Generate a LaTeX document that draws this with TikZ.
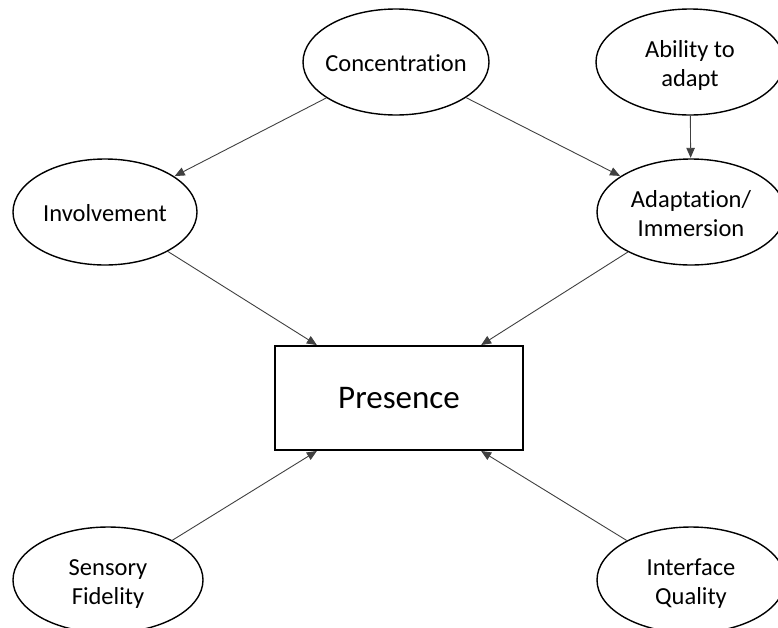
\documentclass[tikz,border=0pt]{standalone}
\usepackage{fontspec}
\setmainfont{Carlito}[Ligatures={NoCommon}]
\usetikzlibrary{arrows.meta,shapes.geometric}
\begin{document}
\begin{tikzpicture}[x=1pt,y=-1pt,
  ell/.style={draw=black,line width=1.4pt,ellipse,inner sep=0pt,
    minimum width=#1,minimum height=106pt,font=\fontsize{24.5}{29}\selectfont},
  ell/.default=188pt,
  presbox/.style={draw=black,line width=1.4pt,rectangle,inner sep=0pt,
    minimum width=248pt,minimum height=104pt,font=\fontsize{33}{40}\selectfont},
  conn/.style={draw=black!75,line width=0.9pt,-{Triangle[length=10pt,width=8.5pt]},shorten >=0.5pt}
]
\useasboundingbox (0,0) rectangle (778,627);
\clip (0,0) rectangle (778,627);
\newcommand{\ctext}[1]{\makebox[0pt]{\raisebox{-10pt}[0pt][0pt]{\begin{tabular}{@{}c@{}}#1\end{tabular}}}}
\node[ell=186pt] (conc) at (396,62) {\ctext{Concentration}};
\node[ell=188pt] (abil) at (690,62) {\ctext{Ability to\\adapt}};
\node[ell=184pt] (inv) at (105,212) {\ctext{Involvement}};
\node[ell=188pt] (adapt) at (691,212) {\ctext{Adaptation/\\Immersion}};
\node[ell=190pt] (sens) at (108,580) {\ctext{Sensory\\Fidelity}};
\node[ell=188pt] (iface) at (691,580) {\ctext{Interface\\Quality}};
\node[presbox] (pres) at (399,398) {\raisebox{-2pt}{Presence}};
\draw[conn] (conc) -- (inv);
\draw[conn] (conc) -- (adapt);
\draw[conn] (abil) -- (adapt);
\draw[conn] (inv) -- ([xshift=43pt]pres.north west);
\draw[conn] (adapt) -- ([xshift=-43pt]pres.north east);
\draw[conn] (sens) -- ([xshift=43pt]pres.south west);
\draw[conn] (iface) -- ([xshift=-43pt]pres.south east);
\end{tikzpicture}
\end{document}
